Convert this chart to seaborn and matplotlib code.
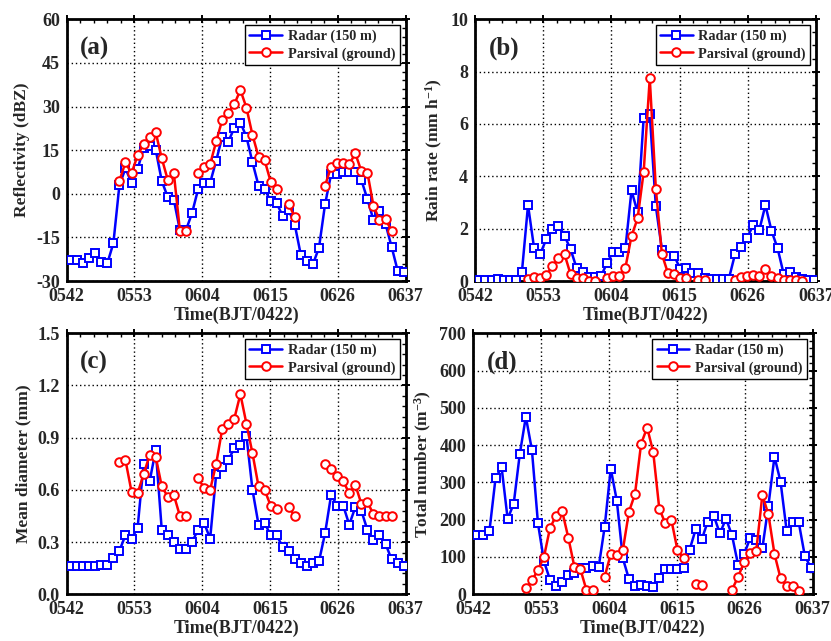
import numpy as np
import pandas as pd
import matplotlib
matplotlib.use("Agg")
import matplotlib.pyplot as plt
from matplotlib.lines import Line2D
from matplotlib.ticker import MultipleLocator, AutoMinorLocator
import seaborn as sns

# ---- time axis: minutes after 05:42 (one sample per ~minute) ----
minutes = np.linspace(0.7, 54.7, 56)
tick_pos = [0, 11, 22, 33, 44, 55]
tick_labels = ["0542", "0553", "0604", "0615", "0626", "0637"]

nan = np.nan

# ---- (a) reflectivity, dBZ ----
z_radar = [-22.8, -22.8, -23.9, -22.2, -20.5, -23.4, -23.9, -17.0, 3.0, 8.7,
           3.8, 8.5, 15.6, 16.5, 15.1, 4.4, -1.2, -2.1, -12.5, -12.5,
           -6.7, 1.5, 3.6, 3.8, 11.4, 19.6, 17.9, 22.7, 24.5, 19.6,
           10.8, 2.8, 1.6, -2.5, -3.3, -7.6, -5.6, -10.7, -21.1, -23.1,
           -24.2, -18.5, -3.6, 6.7, 6.8, 7.4, 7.4, 7.4, 4.7, -1.8,
           -9.0, -5.9, -10.4, -18.2, -26.4, -26.8]
z_parsival = [nan] * 8 + [4.5, 10.8, 7.0, 13.2, 17.1, 19.6, 21.1, 12.2, 4.7, 7.0,
              -12.7, -12.7, nan, 7.0, 9.3, 10.2, 18.0, 25.4, 27.7, 30.8,
              35.7, 29.6, 20.2, 12.8, 11.6, 4.2, 1.6, nan, -3.5, -8.1,
              nan, nan, nan, nan, 2.8, 9.3, 10.5, 10.5, 10.1, 13.9,
              7.8, 7.3, -4.1, -9.0, -8.7, -12.8, nan, nan]

# ---- (b) rain rate, mm/h ----
r_radar = [0.04, 0.04, 0.04, 0.09, 0.04, 0.04, 0.04, 0.36, 2.9, 1.25,
           1.03, 1.6, 2.0, 2.09, 1.72, 1.21, 0.48, 0.36, 0.14, 0.14,
           0.19, 0.7, 1.12, 1.12, 1.25, 3.46, 2.62, 6.24, 6.37, 2.85,
           1.2, 0.97, 0.97, 0.47, 0.51, 0.29, 0.29, 0.13, 0.09, 0.09,
           0.09, 0.09, 1.02, 1.29, 1.66, 2.14, 1.95, 2.9, 1.92, 1.25,
           0.27, 0.34, 0.17, 0.09, 0.04, 0.04]
r_parsival = [nan] * 8 + [0.06, 0.17, 0.10, 0.22, 0.57, 0.87, 1.02, 0.25, 0.10, 0.10,
              0.0, 0.0, nan, 0.10, 0.19, 0.19, 0.51, 1.72, 2.39, 4.17,
              7.75, 3.52, 1.02, 0.29, 0.27, 0.10, 0.10, nan, 0.04, 0.04,
              nan, nan, nan, nan, 0.04, 0.17, 0.19, 0.22, 0.19, 0.45,
              0.19, 0.13, 0.04, 0.04, 0.04, 0.0, nan, nan]

# ---- (c) mean diameter, mm ----
d_radar = [0.165, 0.165, 0.16, 0.165, 0.16, 0.17, 0.17, 0.21, 0.25, 0.34,
           0.32, 0.38, 0.75, 0.65, 0.83, 0.37, 0.34, 0.30, 0.26, 0.26,
           0.30, 0.37, 0.41, 0.32, 0.69, 0.73, 0.77, 0.84, 0.86, 0.91,
           0.60, 0.40, 0.41, 0.34, 0.34, 0.27, 0.25, 0.20, 0.18, 0.165,
           0.18, 0.19, 0.35, 0.57, 0.51, 0.51, 0.40, 0.50, 0.48, 0.37,
           0.31, 0.34, 0.29, 0.20, 0.18, 0.165]
d_parsival = [nan] * 8 + [0.76, 0.77, 0.59, 0.58, 0.69, 0.80, 0.79, 0.62, 0.56, 0.57,
              0.45, 0.45, nan, 0.67, 0.61, 0.60, 0.75, 0.95, 0.98, 1.01,
              1.15, 0.98, 0.81, 0.62, 0.60, 0.51, 0.49, nan, 0.50, 0.45,
              nan, nan, nan, nan, 0.75, 0.72, 0.68, 0.65, 0.58, 0.63,
              0.52, 0.53, 0.46, 0.45, 0.45, 0.45, nan, nan]

# ---- (d) total number concentration, m^-3 ----
n_radar = [159, 159, 170, 311, 341, 202, 243, 376, 476, 387,
           190, 88, 38, 21, 34, 51, 56, 70, 70, 76,
           72, 181, 337, 251, 96, 41, 22, 24, 21, 19,
           43, 69, 69, 69, 70, 119, 174, 147, 195, 210,
           163, 203, 158, 79, 108, 151, 146, 123, 238, 369,
           302, 171, 193, 193, 103, 71]
n_parsival = [nan] * 8 + [16, 37, 65, 101, 179, 210, 222, 152, 74, 67,
              11, 11, nan, 47, 108, 105, 119, 221, 269, 403,
              447, 382, 230, 190, 199, 119, 96, nan, 28, 24,
              nan, nan, nan, nan, 12, 47, 86, 112, 117, 266,
              214, 108, 43, 21, 22, 10, nan, nan]

series_names = ["Radar (150 m)", "Parsival (ground)"]

panels = [
    dict(tag="(a)", radar=z_radar, pars=z_parsival, ylim=(-30, 60), major=15, minor=3,
         ylabel="Reflectivity (dBZ)", fmt="{:g}",
         rect=[0.0803, 0.5616, 0.4077, 0.4083]),
    dict(tag="(b)", radar=r_radar, pars=r_parsival, ylim=(0, 10), major=2, minor=0.5,
         ylabel=r"Rain rate (mm h$^{-1}$)", fmt="{:g}",
         rect=[0.5716, 0.5616, 0.4103, 0.4083]),
    dict(tag="(c)", radar=d_radar, pars=d_parsival, ylim=(0, 1.5), major=0.3, minor=0.06,
         ylabel="Mean diameter (mm)", fmt="{:.1f}",
         rect=[0.0803, 0.0729, 0.4077, 0.4072]),
    dict(tag="(d)", radar=n_radar, pars=n_parsival, ylim=(0, 700), major=100, minor=20,
         ylabel=r"Total number (m$^{-3}$)", fmt="{:g}",
         rect=[0.5692, 0.0729, 0.4088, 0.4072]),
]

sns.set_style("white")
plt.rcParams.update({
    "font.family": ["Liberation Serif", "DejaVu Serif"],
    "font.weight": "bold",
    "axes.labelweight": "bold",
    "mathtext.fontset": "custom",
    "mathtext.rm": "Liberation Serif:bold",
    "mathtext.bf": "Liberation Serif:bold",
    "mathtext.it": "Liberation Serif:bold:italic",
    "mathtext.default": "bf",
    "axes.unicode_minus": False,
})

BLUE = "#0000ff"
RED = "#ff0000"


def to_frame(values):
    """Long table of valid samples; consecutive runs share a segment id."""
    v = np.asarray(values, dtype=float)
    valid = ~np.isnan(v)
    seg = np.cumsum(np.r_[True, valid[1:] != valid[:-1]])
    df = pd.DataFrame({"t": minutes, "v": v, "seg": seg})
    return df[valid]


fig = plt.figure(figsize=(8.31, 6.41), dpi=100)

for p in panels:
    ax = fig.add_axes(p["rect"])
    ax.set_axisbelow(True)

    line_kw = dict(linewidth=1.8, markerfacecolor="white", markeredgewidth=1.4)
    sns.lineplot(data=to_frame(p["radar"]), x="t", y="v", units="seg", estimator=None,
                 color=BLUE, marker="s", markersize=5.2, markeredgecolor=BLUE,
                 ax=ax, legend=False, zorder=3, **line_kw)
    sns.lineplot(data=to_frame(p["pars"]), x="t", y="v", units="seg", estimator=None,
                 color=RED, marker="o", markersize=6.2, markeredgecolor=RED,
                 ax=ax, legend=False, zorder=4, **line_kw)

    ax.set_xlim(0, 55)
    ax.set_ylim(*p["ylim"])
    ax.set_xticks(tick_pos)
    ax.set_xticklabels(tick_labels)
    ax.xaxis.set_minor_locator(AutoMinorLocator(5))
    yt = np.arange(p["ylim"][0], p["ylim"][1] + p["major"] / 2, p["major"])
    ax.set_yticks(yt)
    ax.set_yticklabels([p["fmt"].format(round(v, 3)) for v in yt])
    ax.yaxis.set_minor_locator(MultipleLocator(p["minor"]))

    ax.grid(True, which="major", color="black", linestyle=(0, (1, 2)), linewidth=1.0)
    for s in ax.spines.values():
        s.set_linewidth(2.0)
        s.set_color("black")
    ax.tick_params(which="major", direction="inout", length=6, width=1.4,
                   labelsize=13, pad=2, top=True, right=True, color="black")
    ax.tick_params(which="minor", direction="in", length=3, width=1.0,
                   top=True, right=True, color="black")
    for lab in ax.get_xticklabels() + ax.get_yticklabels():
        lab.set_fontweight("bold")

    ax.set_xlabel("Time(BJT/0422)", fontsize=13, fontweight="bold", labelpad=1)
    ax.set_ylabel(p["ylabel"], fontsize=12.5, fontweight="bold", labelpad=4)

    ax.text(0.04, 0.89, p["tag"], transform=ax.transAxes, fontsize=18,
            fontweight="bold", ha="left", va="center")

    handles = [
        Line2D([], [], color=BLUE, marker="s", markersize=5.2, markerfacecolor="white",
               markeredgecolor=BLUE, markeredgewidth=1.4, linewidth=1.8),
        Line2D([], [], color=RED, marker="o", markersize=6.2, markerfacecolor="white",
               markeredgecolor=RED, markeredgewidth=1.4, linewidth=1.8),
    ]
    leg = ax.legend(handles, series_names, loc="upper right", fontsize=10.3,
                    frameon=True, fancybox=False, edgecolor="black", framealpha=1,
                    handlelength=2.3, handletextpad=0.4, borderpad=0.3,
                    labelspacing=0.3, borderaxespad=0.4)
    leg.get_frame().set_linewidth(1.0)
    for t in leg.get_texts():
        t.set_fontweight("bold")

fig.savefig("out.png", dpi=100)
